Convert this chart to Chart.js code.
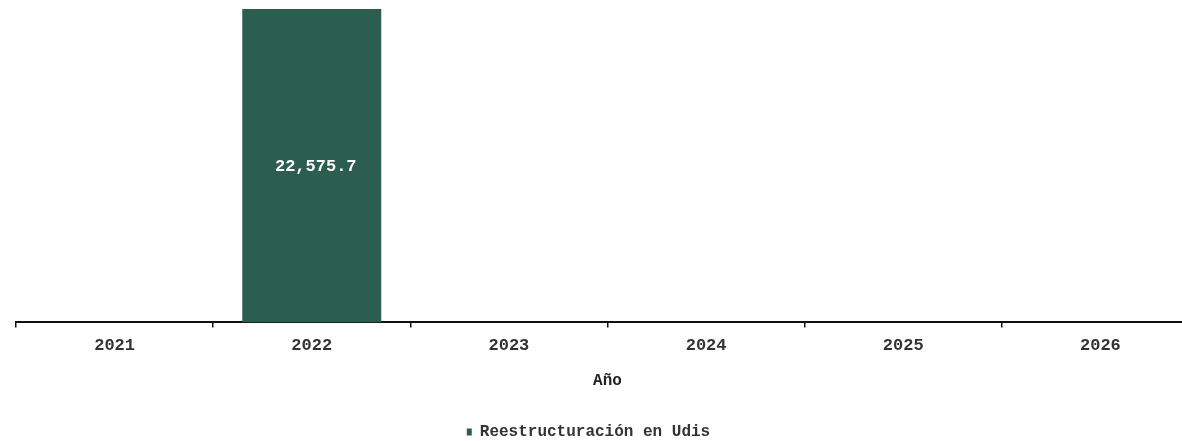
<!DOCTYPE html>
<html>
<head>
<meta charset="utf-8">
<script src="https://cdn.jsdelivr.net/npm/chart.js@4/dist/chart.umd.min.js"></script>
<style>
  html, body { margin: 0; padding: 0; background: #fff; overflow: hidden; }
  #wrap { width: 1200px; height: 441px; }
</style>
</head>
<body>
<div id="wrap"><canvas id="grafica"></canvas></div>
<script>
const anios = ["2021", "2022", "2023", "2024", "2025", "2026"];
const reestructuracion = [null, 22575.7, null, null, null, null];
const nombreSerie = "Reestructuración en Udis";
const tituloEje = "Año";

const verde = "#2b5e4e";
const fuente = "'Liberation Mono', 'DejaVu Sans Mono', monospace";

// etiqueta blanca en el centro de cada barra
const etiquetas = {
  id: "etiquetas",
  afterDatasetsDraw(chart) {
    const ctx = chart.ctx;
    const meta = chart.getDatasetMeta(0);
    ctx.save();
    ctx.fillStyle = "#ffffff";
    ctx.font = "bold 17px " + fuente;
    ctx.textAlign = "center";
    ctx.textBaseline = "middle";
    meta.data.forEach((bar, i) => {
      const v = reestructuracion[i];
      if (v == null) return;
      const texto = v.toLocaleString("en-US", { minimumFractionDigits: 1, maximumFractionDigits: 1 });
      ctx.fillText(texto, bar.x + 4, (bar.y + bar.base) / 2 + 1);
    });
    ctx.restore();
  }
};

// la leyenda va centrada en la ventana visible, no en todo el lienzo
const leyendaVisible = {
  id: "leyendaVisible",
  afterLayout(chart) {
    if (chart.legend) chart.legend.right -= 38;
  }
};

new Chart(document.getElementById("grafica"), {
  type: "bar",
  data: {
    labels: anios,
    datasets: [{
      label: nombreSerie,
      data: reestructuracion,
      backgroundColor: verde,
      borderWidth: 0,
      categoryPercentage: 1,
      barPercentage: 0.705
    }]
  },
  options: {
    responsive: true,
    maintainAspectRatio: false,
    animation: false,
    layout: { padding: { left: 16, right: 1, top: 9, bottom: -9 } },
    plugins: {
      tooltip: { enabled: false },
      legend: {
        position: "bottom",
        labels: {
          color: "#333",
          font: { family: fuente, size: 16, weight: "bold" },
          boxWidth: 5,
          boxHeight: 7,
          padding: 4
        }
      }
    },
    scales: {
      x: {
        grid: {
          offset: true,
          drawOnChartArea: false,
          color: "#111",
          tickLength: 5,
          lineWidth: 1.5
        },
        border: { color: "#111", width: 2 },
        ticks: {
          color: "#333",
          font: { family: fuente, size: 17, weight: "bold" },
          padding: 8,
          maxRotation: 0
        },
        title: {
          display: true,
          text: tituloEje,
          color: "#222",
          font: { family: fuente, size: 16, weight: "bold" },
          padding: { top: 8, bottom: 29 }
        }
      },
      y: {
        display: false,
        min: 0,
        max: 22575.7
      }
    }
  },
  plugins: [etiquetas, leyendaVisible]
});
</script>
</body>
</html>
